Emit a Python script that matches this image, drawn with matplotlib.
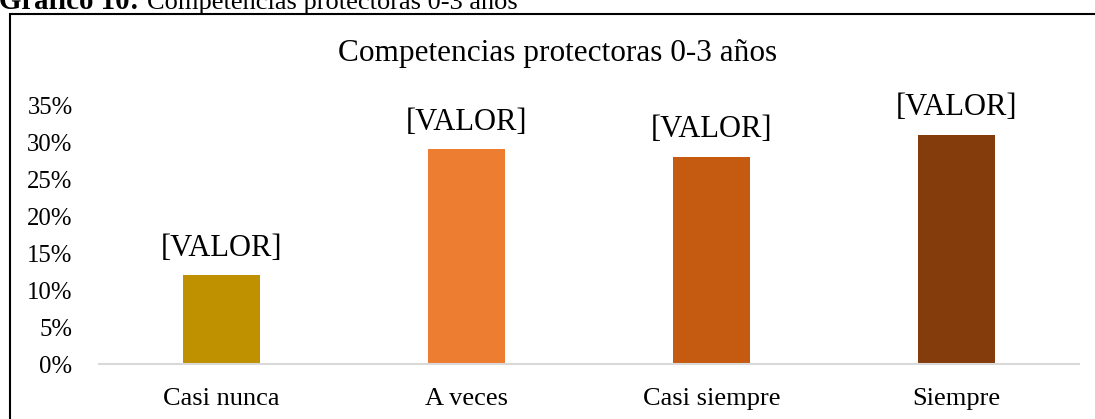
import matplotlib
matplotlib.use("Agg")
import matplotlib.pyplot as plt
from matplotlib.patches import Rectangle
from matplotlib.ticker import FuncFormatter, MultipleLocator

categories = ["Casi nunca", "A veces", "Casi siempre", "Siempre"]
values = [12, 29, 28, 31]
colors = ["#BF9000", "#ED7D31", "#C55A11", "#843C0C"]
data_label = "[VALOR]"
chart_title = "Competencias protectoras 0-3 años"
caption_bold = "Gráfico 10:"
caption_text = "Competencias protectoras 0-3 años"

plt.rcParams['font.family'] = ['Liberation Serif', 'DejaVu Serif']

W, H = 1095, 419
fig = plt.figure(figsize=(W / 100, H / 100), dpi=100)

def fx(px):
    return px / W

def fy(py):
    return 1 - py / H

# axes area: x 99..1079, y (0%) 364 .. (35%) 105
ax = fig.add_axes([fx(99), fy(364), fx(1079) - fx(99), fy(105) - fy(364)])
x = list(range(len(categories)))
bars = ax.bar(x, values, width=0.314, color=colors, zorder=3)
ax.set_xlim(-0.5, len(categories) - 0.5)
ax.set_ylim(0, 35)
ax.yaxis.set_major_locator(MultipleLocator(5))
ax.yaxis.set_major_formatter(FuncFormatter(lambda v, p: f"{int(round(v))}%"))
ax.set_xticks(x)
ax.set_xticklabels(categories, fontsize=19)
ax.tick_params(axis='y', length=0, labelsize=17.8, pad=19)
ax.tick_params(axis='x', length=0, pad=17)
for s in ["top", "right", "left"]:
    ax.spines[s].set_visible(False)
ax.spines["bottom"].set_color("#D9D9D9")
ax.spines["bottom"].set_linewidth(1.5)
ax.spines["bottom"].set_zorder(4)

for rect in bars:
    ax.annotate(data_label, (rect.get_x() + rect.get_width() / 2, rect.get_height()),
                xytext=(0, 19.5), textcoords="offset points", ha="center", va="center",
                fontsize=22, clip_on=False)

fig.text(fx(558), fy(54), chart_title, ha="center", va="center", fontsize=22.5)

# caption (cut off at top, as in the reference)
fig.text(fx(139), fy(9), caption_bold, ha="right", va="baseline", fontsize=20.8, fontweight="bold")
fig.text(fx(147), fy(9), caption_text, ha="left", va="baseline", fontsize=19)

# border box
fig.patches.append(Rectangle((fx(10), fy(430)), fx(1200), fy(14) - fy(430), transform=fig.transFigure,
                             fill=False, edgecolor="black", linewidth=1.5))

fig.savefig("out.png", dpi=100)
